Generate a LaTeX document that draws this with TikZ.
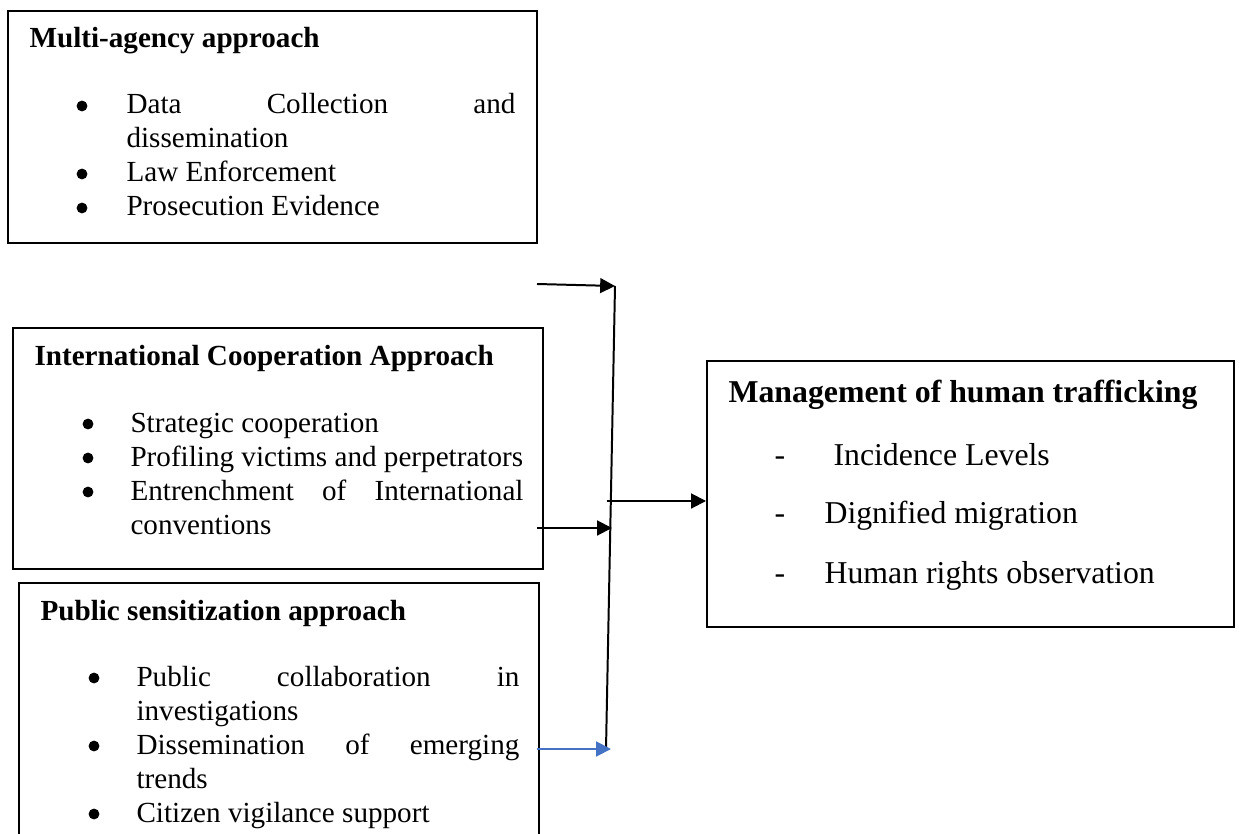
\documentclass[tikz,border=0pt]{standalone}
\usepackage{fontspec}
\setmainfont{Liberation Serif}
\usetikzlibrary{arrows.meta,fit}
\definecolor{arrowblue}{HTML}{4472C4}
\begin{document}
\begin{tikzpicture}[x=0.3774pt,y=-0.3774pt,
  box/.style={draw,line width=0.75pt,inner sep=0pt},
  txt/.style={anchor=base west,inner sep=0pt,font=\fontsize{11}{13}\selectfont},
  ttl/.style={anchor=base west,inner sep=0pt,font=\fontsize{11}{13}\selectfont\bfseries},
  mttl/.style={anchor=base west,inner sep=0pt,font=\fontsize{12}{14}\selectfont\bfseries},
  mtxt/.style={anchor=base west,inner sep=0pt,font=\fontsize{12}{14}\selectfont},
  bul/.style={circle,fill=black,draw=none,inner sep=0pt,minimum size=4.1pt},
  dsh/.style={anchor=base,inner sep=0pt,font=\fontsize{12}{14}\selectfont},
  link/.style={line width=0.75pt},
  conn/.style={line width=0.75pt,-{Triangle[length=5.6pt,width=5.6pt]}},
]
\useasboundingbox (0,0) rectangle (1240,834);
\clip (0,0) rectangle (1240,834);

% boxes
\node[box,fit={(8,11) (537,243)}] (b1) {};
\node[box,fit={(13,328) (543,569)}] (b2) {};
\node[box,fit={(19,583) (539,870)}] (b3) {};
\node[box,fit={(707,361) (1234,627)}] (mgmt) {};

% box 1
\node[ttl] (b1t) at (29,48) {Multi-agency approach};
\node[bul] (b1b1) at (82,106) {};
\node[txt] (b1l1) at (126,114) {\makebox[146.8pt][s]{Data Collection and}};
\node[txt] (b1l2) at (126,148) {dissemination};
\node[bul] (b1b2) at (82,174) {};
\node[txt] (b1l3) at (126,182) {Law Enforcement};
\node[bul] (b1b3) at (82,208) {};
\node[txt] (b1l4) at (126,216) {Prosecution Evidence};

% box 2
\node[ttl] (b2t) at (34,365) {International Cooperation Approach};
\node[bul] (b2b1) at (88,424) {};
\node[txt] (b2l1) at (130,432) {Strategic cooperation};
\node[bul] (b2b2) at (88,458) {};
\node[txt] (b2l2) at (130,466) {Profiling victims and perpetrators};
\node[bul] (b2b3) at (88,492) {};
\node[txt] (b2l3) at (130,500) {\makebox[148.3pt][s]{Entrenchment of International}};
\node[txt] (b2l4) at (130,534) {conventions};

% box 3
\node[ttl] (b3t) at (40,620) {Public sensitization approach};
\node[bul] (b3b1) at (94,678) {};
\node[txt] (b3l1) at (136,686) {\makebox[144.5pt][s]{Public collaboration in}};
\node[txt] (b3l2) at (136,720) {investigations};
\node[bul] (b3b2) at (94,746) {};
\node[txt] (b3l3) at (136,754) {\makebox[144.5pt][s]{Dissemination of emerging}};
\node[txt] (b3l4) at (136,788) {trends};
\node[bul] (b3b3) at (94,814) {};
\node[txt] (b3l5) at (136,822) {Citizen vigilance support};

% management box
\node[mttl] (mt) at (728,402) {Management of human trafficking};
\node[dsh] (md1) at (780,465) {-};
\node[mtxt] (ml1) at (833,465) {Incidence Levels};
\node[dsh] (md2) at (780,523) {-};
\node[mtxt] (ml2) at (824,523) {Dignified migration};
\node[dsh] (md3) at (780,583) {-};
\node[mtxt] (ml3) at (824,583) {Human rights observation};

% connectors
\coordinate (a1s) at (537,284);
\coordinate (a1e) at (615,286);
\coordinate (vb) at (606,749);
\coordinate (a2s) at (537,528);
\coordinate (a2e) at (612,528);
\coordinate (a3s) at (537,749);
\coordinate (a3e) at (611,749);
\coordinate (m1) at (607,501);

\draw[link] (a1e) -- (vb);
\draw[conn] (a1s) -- (a1e);
\draw[conn] (a2s) -- (a2e);
\draw[conn,arrowblue] (a3s) -- (a3e);
\draw[conn] (m1) -- (m1 -| mgmt.west);
\end{tikzpicture}
\end{document}
